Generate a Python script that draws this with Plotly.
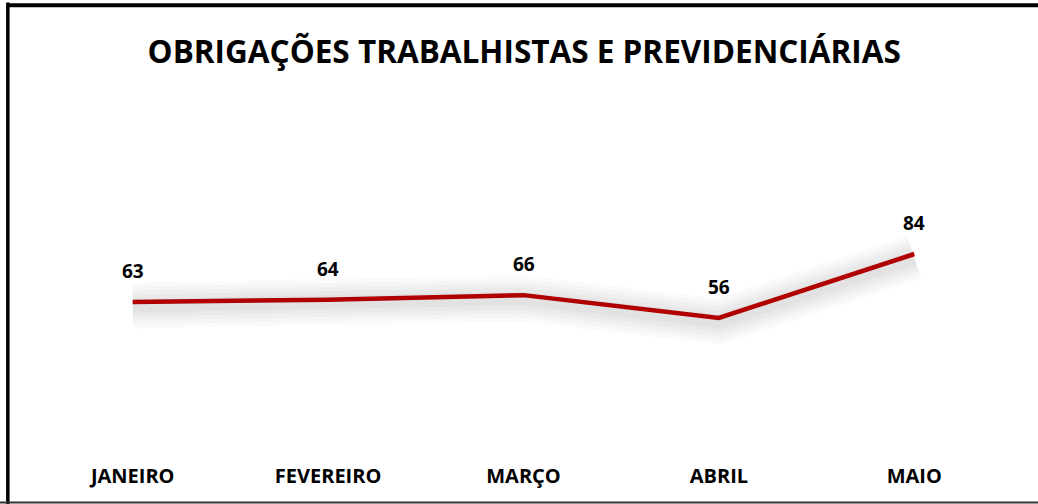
import plotly.graph_objects as go

months = ["JANEIRO", "FEVEREIRO", "MARÇO", "ABRIL", "MAIO"]
values = [63, 64, 66, 56, 84]
title_text = "OBRIGAÇÕES TRABALHISTAS E PREVIDENCIÁRIAS"

FONT = "Open Sans"
YMAX = 147
SHADOW_SHIFT = 1.5  # shadow drawn slightly below the line

fig = go.Figure()

# soft diffuse shadow layers (on an overlaid axis shifted slightly)
for w, a in [(46, 0.018), (38, 0.02), (30, 0.022), (22, 0.025), (14, 0.028)]:
    fig.add_trace(go.Scatter(x=months, y=values, mode="lines", yaxis="y2",
                             line=dict(color=f"rgba(0,0,0,{a})", width=w),
                             hoverinfo="skip", showlegend=False))

fig.add_trace(go.Scatter(x=months, y=values, mode="lines",
                         line=dict(color="#C80000", width=4.5),
                         showlegend=False))

for m, v in zip(months, values):
    fig.add_annotation(x=m, y=v, text=f"<b>{v}</b>", showarrow=False,
                       yshift=31, font=dict(family=FONT, size=19, color="#000000"))

fig.update_layout(
    width=1038, height=504,
    margin=dict(l=35, r=26, t=110, b=58),
    paper_bgcolor="white", plot_bgcolor="white",
    title=dict(text=f"<b>{title_text}</b>", x=0.505, xanchor="center",
               y=0.897, yanchor="middle",
               font=dict(family=FONT, size=31.5, color="#000000")),
    xaxis=dict(range=[-0.5, 4.5], showgrid=False, zeroline=False, showline=False,
               ticks="", tickfont=dict(family=FONT, size=20, color="#000000"),
               ticklabelstandoff=16,
               tickvals=months, ticktext=[f"<b>{m}</b>" for m in months]),
    yaxis=dict(range=[0, YMAX], visible=False),
    yaxis2=dict(range=[SHADOW_SHIFT, YMAX + SHADOW_SHIFT], overlaying="y", visible=False),
    shapes=[
        dict(type="line", xref="paper", yref="paper", x0=-0.0272, x1=1.05, y0=1.312, y1=1.312,
             line=dict(color="#000000", width=4)),
        dict(type="line", xref="paper", yref="paper", x0=-0.0278, x1=-0.0278, y0=1.32, y1=-0.2,
             line=dict(color="#000000", width=3.5)),
        dict(type="line", xref="paper", yref="paper", x0=-0.04, x1=1.05, y0=-0.168, y1=-0.168,
             line=dict(color="#333333", width=2)),
    ],
)

fig.write_html("out.html", config={"displayModeBar": False},
               post_script="document.body.style.margin='0';")
